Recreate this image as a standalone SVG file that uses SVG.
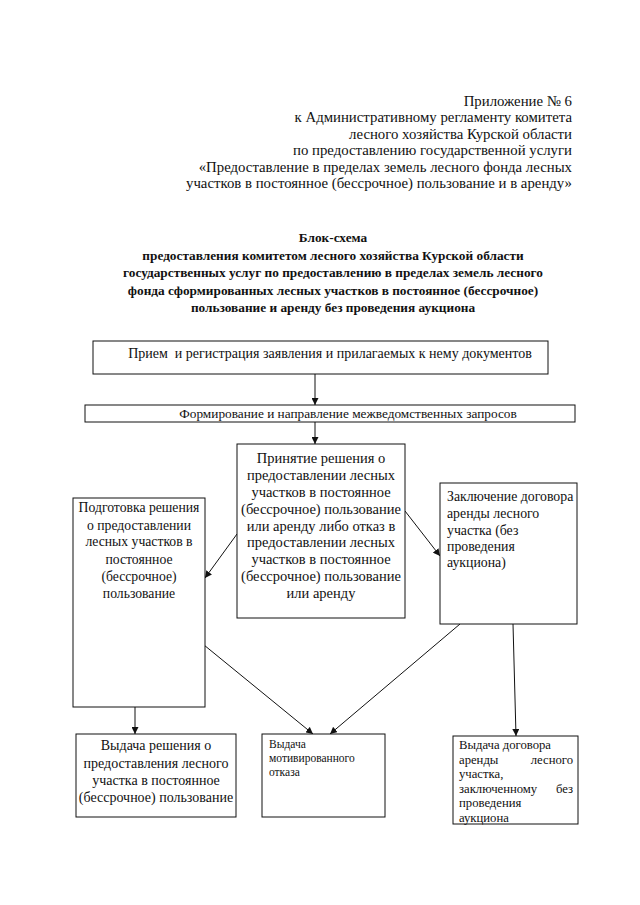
<svg xmlns="http://www.w3.org/2000/svg" width="640" height="905" viewBox="0 0 640 905">
<style>
text{font-family:"Liberation Serif","Times New Roman",serif;fill:#111}
.h{font-size:14.8px;text-anchor:end}
.t{font-size:13.3px;font-weight:bold;text-anchor:middle}
.b{font-size:14px}
.c{text-anchor:middle}
.s{font-size:11.5px}
.box{fill:#fff;stroke:#111;stroke-width:1}
.ln{stroke:#111;stroke-width:1;fill:none;marker-end:url(#ah)}
</style>
<defs>
<marker id="ah" viewBox="0 0 10 10" refX="10" refY="5" markerWidth="7" markerHeight="7" markerUnits="userSpaceOnUse" orient="auto">
<path d="M0,0 L10,5 L0,10 z" fill="#111"/>
</marker>
</defs>
<rect width="640" height="905" fill="#fff"/>
<g id="header">
<text class="h" x="572" y="106">Приложение № 6</text>
<text class="h" x="572" y="122">к Административному регламенту комитета</text>
<text class="h" x="572" y="139">лесного хозяйства Курской области</text>
<text class="h" x="572" y="155">по предоставлению государственной услуги</text>
<text class="h" x="572" y="172">«Предоставление в пределах земель лесного фонда лесных</text>
<text class="h" x="572" y="188">участков в постоянное (бессрочное) пользование и в аренду»</text>
</g>
<g id="title">
<text class="t" x="333" y="242">Блок-схема</text>
<text class="t" x="333" y="260">предоставления комитетом лесного хозяйства Курской области</text>
<text class="t" x="333" y="277">государственных услуг по предоставлению в пределах земель лесного</text>
<text class="t" x="333" y="295">фонда сформированных лесных участков в постоянное (бессрочное)</text>
<text class="t" x="333" y="312">пользование и аренду без проведения аукциона</text>
</g>
<g id="connectors">
<line class="ln" x1="315" y1="374" x2="315" y2="405"/>
<line class="ln" x1="315" y1="422" x2="315" y2="444"/>
<line class="ln" x1="237" y1="534" x2="205" y2="578"/>
<line class="ln" x1="405" y1="511" x2="440" y2="556"/>
<line class="ln" x1="135" y1="707" x2="135" y2="734"/>
<line class="ln" x1="204" y1="645" x2="313" y2="734"/>
<line class="ln" x1="460" y1="624" x2="330" y2="734"/>
<line class="ln" x1="513" y1="624" x2="516" y2="736"/>
</g>
<g id="n1">
<rect class="box" x="93" y="341" width="455" height="33"/>
<text class="b c" x="330" y="358" xml:space="preserve">Прием  и регистрация заявления и прилагаемых к нему документов</text>
</g>
<g id="n2">
<rect class="box" x="85" y="405" width="490" height="17"/>
<text class="b c" x="348" y="418" style="font-size:13.3px">Формирование и направление межведомственных запросов</text>
</g>
<g id="n3" style="font-size:14.5px">
<rect class="box" x="237" y="444" width="168" height="174"/>
<text class="c" x="321" y="463">Принятие решения о</text>
<text class="c" x="321" y="480">предоставлении лесных</text>
<text class="c" x="321" y="497">участков в постоянное</text>
<text class="c" x="321" y="514">(бессрочное) пользование</text>
<text class="c" x="321" y="531">или аренду либо отказ в</text>
<text class="c" x="321" y="547">предоставлении лесных</text>
<text class="c" x="321" y="564">участков в постоянное</text>
<text class="c" x="321" y="581">(бессрочное) пользование</text>
<text class="c" x="321" y="598">или аренду</text>
</g>
<g id="n4" style="font-size:13.7px">
<rect class="box" x="73" y="498" width="132" height="209"/>
<text class="c" x="139" y="512">Подготовка решения</text>
<text class="c" x="139" y="530">о предоставлении</text>
<text class="c" x="139" y="546">лесных участков в</text>
<text class="c" x="139" y="564">постоянное</text>
<text class="c" x="139" y="581">(бессрочное)</text>
<text class="c" x="139" y="598">пользование</text>
</g>
<g id="n5" style="font-size:13.8px">
<rect class="box" x="440" y="483" width="137" height="141"/>
<text x="447" y="501">Заключение договора</text>
<text x="447" y="518">аренды лесного</text>
<text x="447" y="535">участка (без</text>
<text x="447" y="551">проведения</text>
<text x="447" y="567">аукциона)</text>
</g>
<g id="n6">
<rect class="box" x="76" y="734" width="160" height="83"/>
<text class="b c" x="156" y="750">Выдача решения о</text>
<text class="b c" x="156" y="768">предоставления лесного</text>
<text class="b c" x="156" y="785">участка в постоянное</text>
<text class="b c" x="156" y="802">(бессрочное) пользование</text>
</g>
<g id="n7">
<rect class="box" x="262" y="734" width="123" height="83"/>
<text class="s" x="269" y="748">Выдача</text>
<text class="s" x="269" y="762">мотивированного</text>
<text class="s" x="269" y="776">отказа</text>
</g>
<g id="n8" style="font-size:12.7px">
<rect class="box" x="453" y="736" width="125" height="88"/>
<text x="459" y="749">Выдача договора</text>
<text x="459" y="764">аренды</text>
<text x="573" y="764" text-anchor="end">лесного</text>
<text x="459" y="778">участка,</text>
<text x="459" y="793">заключенному</text>
<text x="573" y="793" text-anchor="end">без</text>
<text x="459" y="807">проведения</text>
<text x="459" y="822">аукциона</text>
</g>
</svg>
